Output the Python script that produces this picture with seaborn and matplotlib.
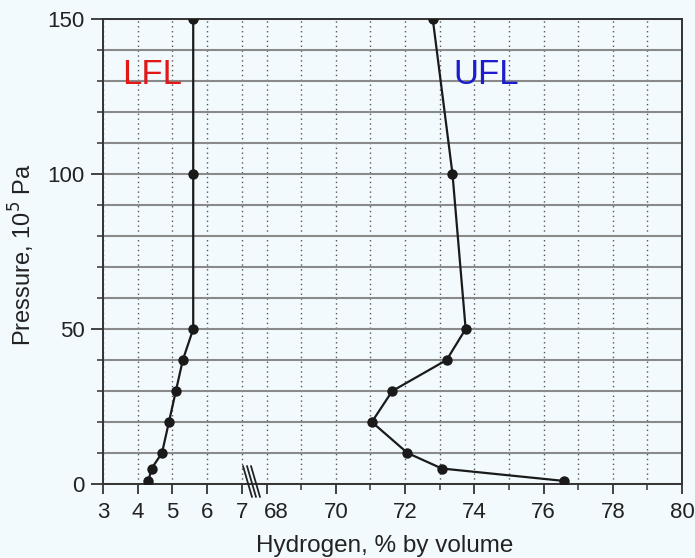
import matplotlib
matplotlib.use("Agg")
import matplotlib.pyplot as plt
import matplotlib.transforms as mtransforms
import seaborn as sns
import pandas as pd
from matplotlib.ticker import MultipleLocator, FixedLocator

# ---- data ----
lfl_pressure = [1, 5, 10, 20, 30, 40, 50, 100, 150]
lfl_h2 = [4.31, 4.40, 4.70, 4.90, 5.10, 5.30, 5.60, 5.60, 5.60]
ufl_pressure = [1, 5, 10, 20, 30, 40, 50, 100, 150]
ufl_h2 = [76.58, 73.06, 72.07, 71.04, 71.63, 73.20, 73.75, 73.37, 72.80]
left_ticks = [3, 4, 5, 6, 7]
right_ticks = [68, 70, 72, 74, 76, 78, 80]
y_ticks = [0, 50, 100, 150]

BG = "#f3fafd"
sns.set_theme(style="white")
plt.rcParams["font.family"] = ["Liberation Sans", "DejaVu Sans"]

fig = plt.figure(figsize=(6.95, 5.58), dpi=100, facecolor=BG)
L, R, B, T = 103 / 695, 682 / 695, 1 - 484 / 558, 1 - 19 / 558
brk = 250 / 695
axL = fig.add_axes([L, B, brk - L, T - B])
axR = fig.add_axes([brk, B, R - brk, T - B], sharey=axL)

lfl = pd.DataFrame({"h2": lfl_h2, "p": lfl_pressure})
ufl = pd.DataFrame({"h2": ufl_h2, "p": ufl_pressure})
style = dict(sort=False, estimator=None, color="#1a1a1a", linewidth=1.6,
             marker="o", markersize=7.5, markeredgewidth=0, zorder=5)
sns.lineplot(data=lfl, x="h2", y="p", ax=axL, **style)
sns.lineplot(data=ufl, x="h2", y="p", ax=axR, **style)

axL.set_xlim(3, 3 + (250 - 103) / 34.7)
axR.set_xlim(68 - (266.6 - 250) / 34.6, 80)
axL.set_ylim(0, 150)

for ax in (axL, axR):
    ax.set_facecolor(BG)
    ax.set_xlabel("")
    ax.set_ylabel("")
    ax.yaxis.set_major_locator(FixedLocator(y_ticks))
    ax.yaxis.set_minor_locator(MultipleLocator(10))
    ax.xaxis.set_minor_locator(MultipleLocator(1))
    ax.grid(axis="y", which="both", color="#8a8a8a", linewidth=1.5, linestyle="-")
    ax.grid(axis="x", which="both", color="#555555", linewidth=1.0, linestyle=(0, (1, 2.5)))
    ax.set_axisbelow(True)
    for s in ax.spines.values():
        s.set_color("#333333")
        s.set_linewidth(1.4)
    ax.tick_params(axis="both", which="major", direction="out", length=7, width=1.3,
                   color="#333333", labelsize=16, labelcolor="#222222", pad=4,
                   bottom=True, left=True)
    ax.tick_params(axis="both", which="minor", direction="out", length=4, width=1.1,
                   color="#333333", bottom=True, left=True)

axL.set_xticks(left_ticks)
axR.set_xticks(right_ticks)
axL.spines["right"].set_visible(False)
axR.spines["left"].set_visible(False)
axR.tick_params(axis="y", which="both", left=False, labelleft=False)
axL.tick_params(axis="x", which="minor", bottom=False)
axL.tick_params(axis="y", which="major", length=9)
axL.tick_params(axis="x", which="major", pad=6)
axR.tick_params(axis="x", which="major", pad=6)

# shift the first label after the break slightly right, as in the reference
fig.canvas.draw()
lab68 = axR.get_xticklabels()[0]
lab68.set_transform(lab68.get_transform() +
                    mtransforms.ScaledTranslation(10 / 100, 0, fig.dpi_scale_trans))

# axis break marks
for dx in (0.0, 4.0, 8.0):
    x0 = (243 + dx) / 695
    fig.add_artist(plt.Line2D([x0, x0 + 9 / 695], [1 - 466 / 558, 1 - 497 / 558],
                              color="#222222", linewidth=1.3, transform=fig.transFigure))

axL.text(4.41, 132, "LFL", color="#e01818", fontsize=25, ha="center", va="center")
axR.text(74.33, 132, "UFL", color="#1c1ccc", fontsize=25, ha="center", va="center")

fig.text(385 / 695, 1 - 546 / 558, "Hydrogen, % by volume", fontsize=17.5,
         color="#222222", ha="center", va="center")
fig.text(22 / 695, 1 - 255 / 558, "Pressure, 10$^5$ Pa", fontsize=17,
         color="#222222", ha="center", va="center", rotation=90)

fig.savefig("out.png", dpi=100, facecolor=BG)
